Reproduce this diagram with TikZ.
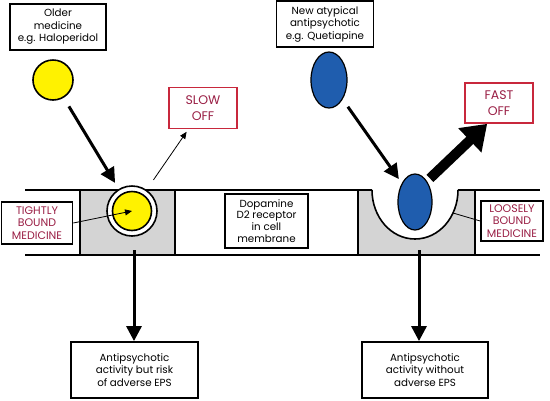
\documentclass[tikz,border=0pt]{standalone}
\usepackage{fontspec}
\setmainfont{Poppins}
\usetikzlibrary{arrows.meta,shapes.geometric}
\definecolor{myyellow}{HTML}{FFF200}
\definecolor{myblue}{HTML}{1F5DAE}
\definecolor{mygray}{HTML}{D4D4D4}
\definecolor{boxred}{HTML}{C8283C}
\definecolor{txtred}{HTML}{9A1F45}
\begin{document}
\begin{tikzpicture}[x=1pt,y=-1pt,
  lbl/.style={draw=black,line width=1.8pt,fill=white,align=center,inner sep=0pt,
    font=\fontsize{10.3}{12.5}\selectfont},
  redbox/.style={draw=boxred,line width=1.6pt,fill=white,align=center,inner sep=0pt,
    text=txtred,font=\fontsize{12.5}{15.5}\selectfont},
  blackred/.style={draw=black,line width=1.6pt,fill=white,align=center,inner sep=0pt,
    text=txtred,font=\fontsize{11}{12.2}\selectfont},
  memb/.style={line width=1.6pt},
  bigarrow/.style={line width=3pt,-{Triangle[length=15pt,width=15pt]}},
  thinarrow/.style={line width=0.8pt,-{Triangle[length=7pt,width=6pt]}},
  fatarrow/.style={line width=10pt,-{Triangle[length=24pt,width=32pt]}}]
\useasboundingbox[fill=white] (0,0) rectangle (550,400);

% membrane
\fill[mygray] (80,190) rectangle (175,255);
\fill[mygray] (358,190) rectangle (475,255);
\fill[white,draw=black,line width=1.6pt] (372,190) .. controls (372,217) and (391,239) .. (415,239)
   .. controls (439,239) and (458,217) .. (458,190);
\draw[memb] (25,190) -- (372,190);
\draw[memb] (458,190) -- (540,190);
\draw[memb] (25,255) -- (540,255);
\foreach \xx in {80,175,358,475} \draw[memb] (\xx,190) -- (\xx,255);

% labels
\node[lbl,minimum width=96pt,minimum height=46pt] (old) at (58,27) {Older\\medicine\\e.g. Haloperidol};
\node[lbl,minimum width=97pt,minimum height=46pt] (new) at (325,24) {New atypical\\antipsychotic\\e.g. Quetiapine};
\node[redbox,minimum width=68pt,minimum height=41pt] (slow) at (203,108) {SLOW\\OFF};
\node[redbox,minimum width=68pt,minimum height=40pt] (fast) at (499,103) {FAST\\OFF};
\node[blackred,minimum width=71pt,minimum height=42pt] (tight) at (37,223) {TIGHTLY\\BOUND\\MEDICINE};
\node[blackred,minimum width=62pt,minimum height=40pt] (loose) at (512,221) {LOOSELY\\BOUND\\MEDICINE};
\node[lbl,minimum width=83pt,minimum height=54pt,font=\fontsize{10.3}{11.8}\selectfont] (dop) at (266.5,221) {Dopamine\\D2 receptor\\in cell\\membrane};
\node[lbl,minimum width=127pt,minimum height=56pt] (res1) at (134.5,370) {Antipsychotic\\activity but risk\\of adverse EPS};
\node[lbl,minimum width=126pt,minimum height=56pt] (res2) at (425,370) {Antipsychotic\\activity without\\adverse EPS};

% medicines
\node[circle,draw=black,line width=1.6pt,fill=myyellow,minimum size=40pt,inner sep=0pt] (y1) at (53,80) {};
\node[circle,draw=black,line width=1.6pt,fill=white,minimum size=50pt,inner sep=0pt] (ring) at (132,211) {};
\node[circle,draw=black,line width=1.6pt,fill=myyellow,minimum size=39pt,inner sep=0pt] (y2) at (132,211) {};
\node[ellipse,draw=black,line width=1.2pt,fill=myblue,minimum width=36pt,minimum height=56pt,inner sep=0pt] (b1) at (329,80) {};
\node[ellipse,draw=black,line width=1.2pt,fill=myblue,minimum width=34pt,minimum height=56pt,inner sep=0pt] (b2) at (415,202) {};

\coordinate (ucurve) at (453,213);
\coordinate (ycenter) at (132,211);

% connectors
\draw[bigarrow,shorten <=10pt,shorten >=7pt] (y1) -- (ring);
\draw[thinarrow,shorten <=12pt,shorten >=3pt] (ring) -- (slow);
\draw[thinarrow] (tight.east) -- (ycenter);
\draw[bigarrow,shorten <=9pt,shorten >=5pt] (b1) -- (b2);
\draw[fatarrow,shorten <=4pt] (b2.60) -- ([xshift=23pt]fast.south west);
\draw[line width=0.8pt] (loose.west) -- (ucurve);
\draw[bigarrow] (134,250) -- (res1.north -| 134,0);
\draw[bigarrow] (419,250) -- (res2.north -| 419,0);
\end{tikzpicture}
\end{document}
